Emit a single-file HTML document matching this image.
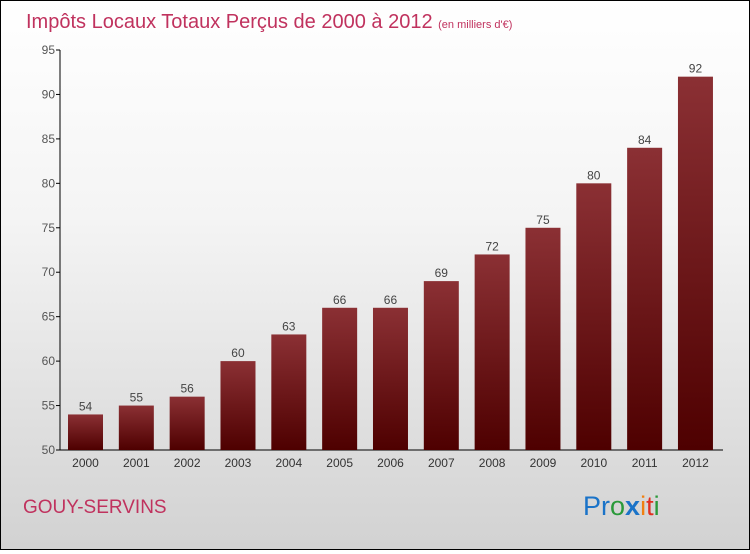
<!DOCTYPE html>
<html><head><meta charset="utf-8"><style>
body{margin:0;width:750px;height:550px;overflow:hidden}
#c{position:relative;width:748px;height:548px;border:1px solid #000;background:linear-gradient(#fff 0%,#f4f4f4 40%,#d2d2d2 100%);font-family:"Liberation Sans",sans-serif}
</style></head><body>
<div id="c">
<svg width="748" height="548">
<defs><linearGradient id="g" x1="0" y1="0" x2="0" y2="1"><stop offset="0" stop-color="#8b3034"/><stop offset="1" stop-color="#4e0000"/></linearGradient></defs>
<text x="25" y="27" font-size="20" fill="#c0325e">Impôts Locaux Totaux Perçus de 2000 à 2012 <tspan font-size="11">(en milliers d'€)</tspan></text>
<g id="grid"></g><g id="bars"></g>
<text x="22" y="512" font-size="19" fill="#c0325e">GOUY-SERVINS</text>
<text x="582" y="514" font-size="27"><tspan fill="#1a73c8">Pr</tspan><tspan fill="#2a9a3a">o</tspan><tspan fill="#1a73c8" font-weight="bold">x</tspan><tspan fill="#f08010">i</tspan><tspan fill="#e03020">t</tspan><tspan fill="#2a9a3a">i</tspan></text>
</svg></div>
<script>
const years=["2000","2001","2002","2003","2004","2005","2006","2007","2008","2009","2010","2011","2012"];
const values=[54,55,56,60,63,66,66,69,72,75,80,84,92];
const ticks=[50,55,60,65,70,75,80,85,90,95];
const NS="http://www.w3.org/2000/svg";
const y=v=>449-(v-50)*400/45;
const x0=59,bw=50.83;
function mk(t,a,p){const e=document.createElementNS(NS,t);for(const k in a)e.setAttribute(k,a[k]);p.appendChild(e);return e;}
const grid=document.getElementById('grid'),bars=document.getElementById('bars');
ticks.forEach(t=>{
 const k=mk('line',{x1:x0-4,x2:x0,y1:y(t),y2:y(t),stroke:'#000'},grid);
 
 
 const tx=mk('text',{x:x0-5,y:y(t)+4,'font-size':12,fill:'#555','text-anchor':'end'},grid);tx.textContent=t;
 
 
});
const ax=mk('line',{x1:x0,x2:x0,y1:y(95),y2:y(50),stroke:'#000'},grid);


const xa=mk('line',{x1:x0,x2:722,y1:y(50),y2:y(50),stroke:'#000'},grid);


values.forEach((v,i)=>{
 const bx=x0+8+i*bw;
 const r=mk('rect',{x:bx,y:y(v),width:35,height:y(50)-y(v),fill:'url(#g)'},bars);
 
 
 const t=mk('text',{x:bx+17.5,y:y(v)-4,'font-size':12,fill:'#444','text-anchor':'middle'},bars);t.textContent=v;
 
 
 const xl=mk('text',{x:bx+17.5,y:466,'font-size':12,fill:'#333','text-anchor':'middle'},bars);xl.textContent=years[i];
 
 
});
</script>
</body></html>
